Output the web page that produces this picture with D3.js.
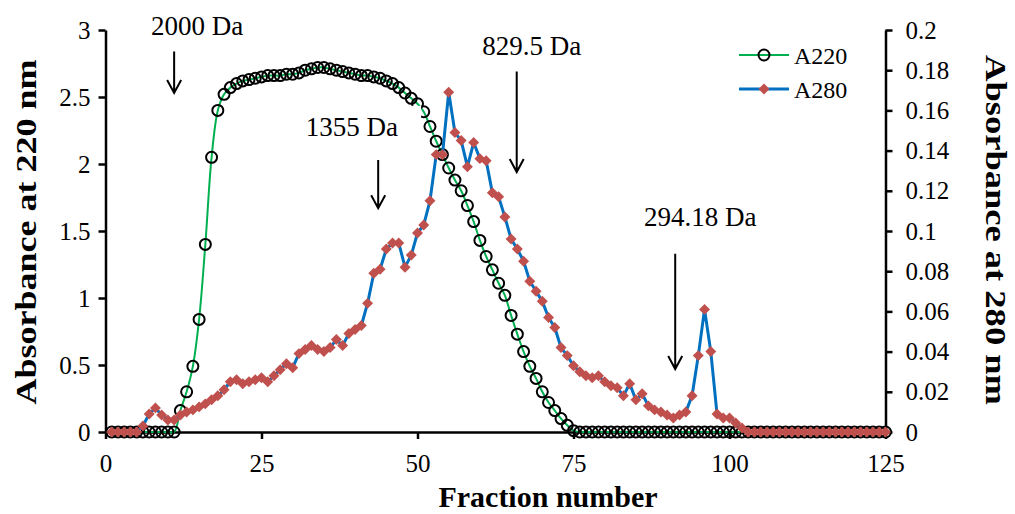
<!DOCTYPE html>
<html>
<head>
<meta charset="utf-8">
<script src="https://cdn.jsdelivr.net/npm/d3@7"></script>
<style>
  body { margin: 0; background: #fff; }
  svg text { font-family: "Liberation Serif", "Times New Roman", serif; fill: #000; }
  .axis path, .axis line { stroke: #000; stroke-width: 2.5; }
  .axis text { font-size: 25px; }
  .title { font-weight: bold; }
</style>
</head>
<body>
<script>
// absorbance at 220 nm, fractions 1..125
var a220 = [
  0, 0, 0, 0, 0, 0, 0, 0, 0, 0,
  0, 0.16, 0.30, 0.49, 0.84, 1.40, 2.05, 2.40, 2.52, 2.57,
  2.60, 2.62, 2.63, 2.64, 2.65, 2.66, 2.66, 2.66, 2.67, 2.67,
  2.68, 2.70, 2.71, 2.72, 2.72, 2.71, 2.70, 2.69, 2.68, 2.67,
  2.66, 2.66, 2.65, 2.64, 2.62, 2.60, 2.57, 2.53, 2.49, 2.45,
  2.39, 2.28, 2.17, 2.07, 1.97, 1.88, 1.80, 1.69, 1.57, 1.43,
  1.31, 1.21, 1.11, 1.02, 0.87, 0.73, 0.60, 0.49, 0.40, 0.30,
  0.22, 0.16, 0.10, 0.05, 0.01, 0, 0, 0, 0, 0,
  0, 0, 0, 0, 0, 0, 0, 0, 0, 0,
  0, 0, 0, 0, 0, 0, 0, 0, 0, 0,
  0, 0, 0, 0, 0, 0, 0, 0, 0, 0,
  0, 0, 0, 0, 0, 0, 0, 0, 0, 0,
  0, 0, 0, 0, 0
];

// absorbance at 280 nm, fractions 1..125
var a280 = [
  0, 0, 0, 0, 0, 0.003, 0.009, 0.012, 0.0085, 0.006,
  0.006, 0.0085, 0.010, 0.011, 0.0125, 0.014, 0.016, 0.018, 0.021, 0.025,
  0.026, 0.024, 0.025, 0.026, 0.027, 0.025, 0.028, 0.031, 0.034, 0.032,
  0.039, 0.041, 0.043, 0.041, 0.040, 0.042, 0.046, 0.043, 0.049, 0.051,
  0.053, 0.064, 0.079, 0.081, 0.091, 0.094, 0.094, 0.082, 0.088, 0.099,
  0.103, 0.115, 0.138, 0.138, 0.169, 0.149, 0.145, 0.132, 0.144, 0.136,
  0.135, 0.119, 0.117, 0.107, 0.096, 0.091, 0.085, 0.075, 0.070, 0.065,
  0.057, 0.052, 0.042, 0.038, 0.033, 0.030, 0.028, 0.027, 0.028, 0.025,
  0.023, 0.022, 0.018, 0.024, 0.016, 0.019, 0.013, 0.011, 0.010, 0.0085,
  0.007, 0.0085, 0.010, 0.018, 0.038, 0.061, 0.040, 0.009, 0.007, 0.007,
  0.0045, 0.002, 0, 0, 0, 0, 0, 0, 0, 0,
  0, 0, 0, 0, 0, 0, 0, 0, 0, 0,
  0, 0, 0, 0, 0
];

var xTicks = [0, 25, 50, 75, 100, 125];
var leftTicks = [0, 0.5, 1, 1.5, 2, 2.5, 3];
var rightTicks = [0, 0.02, 0.04, 0.06, 0.08, 0.1, 0.12, 0.14, 0.16, 0.18, 0.2];
var seriesNames = ["A220", "A280"];

// molecular weight markers: label position and arrow, in fraction / A220 units
var markerLabels = ["2000 Da", "1355 Da", "829.5 Da", "294.18 Da"];
var markerLabelX = [14.7, 39.5, 68.3, 95.3];
var markerLabelY = [2.96, 2.21, 2.81, 1.54];
var markerArrowX = [11.0, 43.7, 65.9, 91.3];
var markerArrowTop = [2.84, 2.03, 2.69, 1.33];
var markerArrowBottom = [2.53, 1.67, 1.94, 0.47];

var width = 1015, height = 514;
var margin = {top: 30, right: 129.5, bottom: 82, left: 105.5};

var svg = d3.select("body")
            .append("svg")
            .attr("width", width)
            .attr("height", height);

var x = d3.scaleLinear()
          .domain([0, 125])
          .range([margin.left, width - margin.right]);

var yLeft = d3.scaleLinear()
              .domain([0, 3])
              .range([height - margin.bottom, margin.top]);

var yRight = d3.scaleLinear()
               .domain([0, 0.2])
               .range([height - margin.bottom, margin.top]);

var fmt = function(d) { return String(+d.toFixed(2)); };

// axes
svg.append("g")
   .attr("class", "axis")
   .attr("transform", "translate(0," + (height - margin.bottom) + ")")
   .call(d3.axisBottom(x).tickValues(xTicks).tickSize(7).tickSizeOuter(0).tickPadding(15).tickFormat(fmt));

svg.append("g")
   .attr("class", "axis")
   .attr("transform", "translate(" + margin.left + ",0)")
   .call(d3.axisLeft(yLeft).tickValues(leftTicks).tickSize(7).tickSizeOuter(0).tickPadding(8).tickFormat(fmt));

svg.append("g")
   .attr("class", "axis")
   .attr("transform", "translate(" + (width - margin.right) + ",0)")
   .call(d3.axisRight(yRight).tickValues(rightTicks).tickSize(7).tickSizeOuter(0).tickPadding(13).tickFormat(fmt));

svg.selectAll(".axis .domain").attr("stroke-width", 2.5);

var pts220 = a220.map(function(v, i) { return [i + 1, v]; });
var pts280 = a280.map(function(v, i) { return [i + 1, v]; });

// A220 smoothed line with open circles
var line220 = d3.line()
  .x(function(d) { return x(d[0]); })
  .y(function(d) { return yLeft(d[1]); })
  .curve(d3.curveCatmullRom.alpha(0.5));

svg.append("path")
   .attr("d", line220(pts220))
   .attr("fill", "none")
   .attr("stroke", "#00b050")
   .attr("stroke-width", 2);

svg.append("g")
   .selectAll("circle")
   .data(pts220)
   .enter()
   .append("circle")
     .attr("cx", function(d) { return x(d[0]); })
     .attr("cy", function(d) { return yLeft(d[1]); })
     .attr("r", 5.5)
     .attr("fill", "none")
     .attr("stroke", "#000")
     .attr("stroke-width", 2);

// A280 line with diamonds
var line280 = d3.line()
  .x(function(d) { return x(d[0]); })
  .y(function(d) { return yRight(d[1]); });

svg.append("path")
   .attr("d", line280(pts280))
   .attr("fill", "none")
   .attr("stroke", "#0070c0")
   .attr("stroke-width", 3)
   .attr("stroke-linejoin", "round");

var diamond = d3.symbol().type(d3.symbolSquare).size(60);

svg.append("g")
   .selectAll("path")
   .data(pts280)
   .enter()
   .append("path")
     .attr("d", diamond)
     .attr("transform", function(d) { return "translate(" + x(d[0]) + "," + yRight(d[1]) + ")rotate(45)"; })
     .attr("fill", "#c0504d");

// marker labels (white text boxes) and arrows
var notes = svg.append("g");
markerLabels.forEach(function(label, i) {
  var g = notes.append("g");
  var box = g.append("rect").attr("fill", "#fff");
  var t = g.append("text")
           .attr("x", x(markerLabelX[i]))
           .attr("y", yLeft(markerLabelY[i]))
           .attr("text-anchor", "middle")
           .style("font-size", "27px")
           .text(label);
  var bb = t.node().getBBox();
  box.attr("x", bb.x - 8).attr("y", bb.y - 6)
     .attr("width", bb.width + 31).attr("height", bb.height + 12);

  var ax = x(markerArrowX[i]), y0 = yLeft(markerArrowTop[i]), y1 = yLeft(markerArrowBottom[i]);
  g.append("path")
   .attr("d", "M" + ax + "," + y0 + "V" + y1 + "M" + (ax - 7) + "," + (y1 - 13) + "L" + ax + "," + y1 + "L" + (ax + 7) + "," + (y1 - 13))
   .attr("fill", "none")
   .attr("stroke", "#000")
   .attr("stroke-width", 2);
});

// legend
var legend = svg.append("g");
var legendY = [55, 89];
seriesNames.forEach(function(name, i) {
  var g = legend.append("g").attr("transform", "translate(739," + legendY[i] + ")");
  g.append("line")
   .attr("x1", 0).attr("x2", 50)
   .attr("stroke", i == 0 ? "#00b050" : "#0070c0")
   .attr("stroke-width", i == 0 ? 2 : 3);
  if (i == 0) {
    g.append("circle").attr("cx", 25).attr("r", 5.5)
     .attr("fill", "none").attr("stroke", "#000").attr("stroke-width", 2);
  } else {
    g.append("path").attr("d", diamond).attr("transform", "translate(25,0)rotate(45)").attr("fill", "#c0504d");
  }
  g.append("text")
   .attr("x", 55).attr("y", 9)
   .style("font-size", "24px")
   .text(name);
});

// axis titles
svg.append("text")
   .attr("class", "title")
   .attr("text-anchor", "middle")
   .attr("transform", "translate(36,232)rotate(-90)")
   .attr("textLength", 345)
   .attr("lengthAdjust", "spacingAndGlyphs")
   .style("font-size", "30px")
   .text("Absorbance at 220 nm");

svg.append("text")
   .attr("class", "title")
   .attr("text-anchor", "middle")
   .attr("transform", "translate(986,230)rotate(90)")
   .attr("textLength", 350)
   .attr("lengthAdjust", "spacingAndGlyphs")
   .style("font-size", "30px")
   .text("Absorbance at 280 nm");

svg.append("text")
   .attr("class", "title")
   .attr("text-anchor", "middle")
   .attr("x", 548)
   .attr("y", 507)
   .style("font-size", "30px")
   .text("Fraction number");
</script>
</body>
</html>
